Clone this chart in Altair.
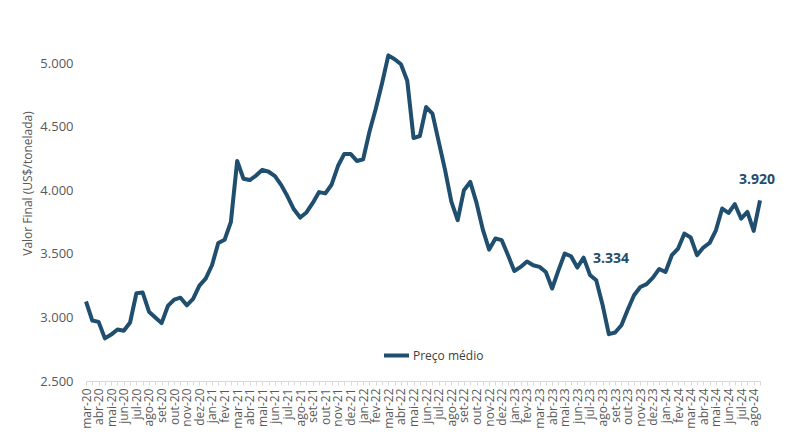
import altair as alt
import pandas as pd

# Semi-monthly average prices (two points per month, mar-20 .. ago-24)
precos = [
    3125, 2975, 2965, 2835, 2865, 2905, 2895, 2960, 3190, 3195,
    3045, 3000, 2955, 3090, 3140, 3155, 3095, 3145, 3250, 3305,
    3410, 3585, 3610, 3750, 4230, 4090, 4080, 4115, 4160, 4145,
    4110, 4040, 3950, 3850, 3785, 3825, 3900, 3985, 3975, 4045,
    4190, 4285, 4285, 4230, 4243, 4460, 4640, 4840, 5060, 5030,
    4990, 4860, 4410, 4426, 4654, 4602, 4380, 4160, 3910, 3764,
    4000, 4065, 3900, 3690, 3533, 3620, 3607, 3489, 3365, 3397,
    3440, 3410, 3397, 3357, 3227, 3370, 3502, 3481, 3392, 3470,
    3334, 3292, 3100, 2868, 2881, 2938, 3060, 3174, 3239, 3262,
    3313, 3381, 3357, 3489, 3541, 3659, 3628, 3489, 3549, 3585,
    3685, 3856, 3821, 3890, 3777, 3829, 3680, 3920,
]

meses = [
    "mar-20", "abr-20", "mai-20", "jun-20", "jul-20", "ago-20", "set-20", "out-20", "nov-20", "dez-20",
    "jan-21", "fev-21", "mar-21", "abr-21", "mai-21", "jun-21", "jul-21", "ago-21", "set-21", "out-21",
    "nov-21", "dez-21", "jan-22", "fev-22", "mar-22", "abr-22", "mai-22", "jun-22", "jul-22", "ago-22",
    "set-22", "out-22", "nov-22", "dez-22", "jan-23", "fev-23", "mar-23", "abr-23", "mai-23", "jun-23",
    "jul-23", "ago-23", "set-23", "out-23", "nov-23", "dez-23", "jan-24", "fev-24", "mar-24", "abr-24",
    "mai-24", "jun-24", "jul-24", "ago-24",
]

serie = "Preço médio"
destaques = [80, 107]  # indices of annotated points

df = pd.DataFrame({
    "i": list(range(len(precos))),
    "valor": precos,
    "serie": [serie] * len(precos),
})

LINE = "#1F4E6E"
GREY = "#595959"

label_arr = "[" + ",".join("'" + m + "'" for m in meses) + "]"

x = alt.X(
    "i:O",
    sort=None,
    scale=alt.Scale(type="point", padding=0),
    axis=alt.Axis(
        title=None,
        labelExpr="datum.value % 2 == 0 ? " + label_arr + "[datum.value/2] : ''",
        labelAngle=-90,
        labelAlign="right",
        labelBaseline="middle",
        labelFontSize=12,
        labelColor=GREY,
        labelFont="Open Sans",
        labelPadding=3,
        labelOverlap=False,
        domainColor="#d9d9d9",
        tickColor="#d9d9d9",
        tickSize=4,
        grid=False,
    ),
)

y = alt.Y(
    "valor:Q",
    scale=alt.Scale(domain=[2500, 5000], nice=False, zero=False),
    axis=alt.Axis(
        title="Valor Final (US$/tonelada)",
        titleFont="Open Sans",
        titleFontSize=12,
        titleFontWeight="normal",
        titleColor=GREY,
        titleX=-59,
        titleY=120,
        titleAlign="center",
        titleBaseline="middle",
        values=[2500, 3000, 3500, 4000, 4500, 5000],
        labelExpr="replace(format(datum.value, ','), ',', '.')",
        labelFontSize=13,
        labelColor=GREY,
        labelFont="Open Sans",
        labelPadding=13,
        ticks=False,
        domain=False,
        grid=False,
    ),
)

linha = alt.Chart(df).mark_line(strokeWidth=4, clip=False, strokeJoin="round").encode(
    x=x,
    y=y,
    color=alt.Color(
        "serie:N",
        scale=alt.Scale(domain=[serie], range=[LINE]),
        legend=alt.Legend(
            title=None,
            orient="none",
            legendX=296,
            legendY=278,
            symbolType="stroke",
            symbolSize=625,
            symbolStrokeWidth=4,
            labelFont="Open Sans",
            labelFontSize=12,
            labelColor="#404040",
            labelOffset=2,
        ),
    ),
)

base_txt = alt.Chart(df).transform_calculate(
    rotulo="replace(format(datum.valor, ','), ',', '.')"
)

txt1 = base_txt.transform_filter(alt.datum.i == destaques[0]).mark_text(
    align="left", baseline="middle", dx=3, dy=-16, fontSize=14, fontWeight="bold",
    font="Open Sans", color=LINE,
).encode(x=alt.X("i:O", sort=None), y="valor:Q", text="rotulo:N")

txt2 = base_txt.transform_filter(alt.datum.i == destaques[1]).mark_text(
    align="center", baseline="middle", dx=-3, dy=-20, fontSize=14, fontWeight="bold",
    font="Open Sans", color=LINE,
).encode(x=alt.X("i:O", sort=None), y="valor:Q", text="rotulo:N")

chart = alt.layer(linha, txt1, txt2).properties(
    width=674,
    height=318,
    autosize=alt.AutoSizeParams(type="none"),
    padding={"left": 86, "top": 63, "right": 40, "bottom": 54},
    background="white",
).configure_view(stroke=None)

chart.save("out.html", embed_options={"renderer": "svg", "actions": False})
